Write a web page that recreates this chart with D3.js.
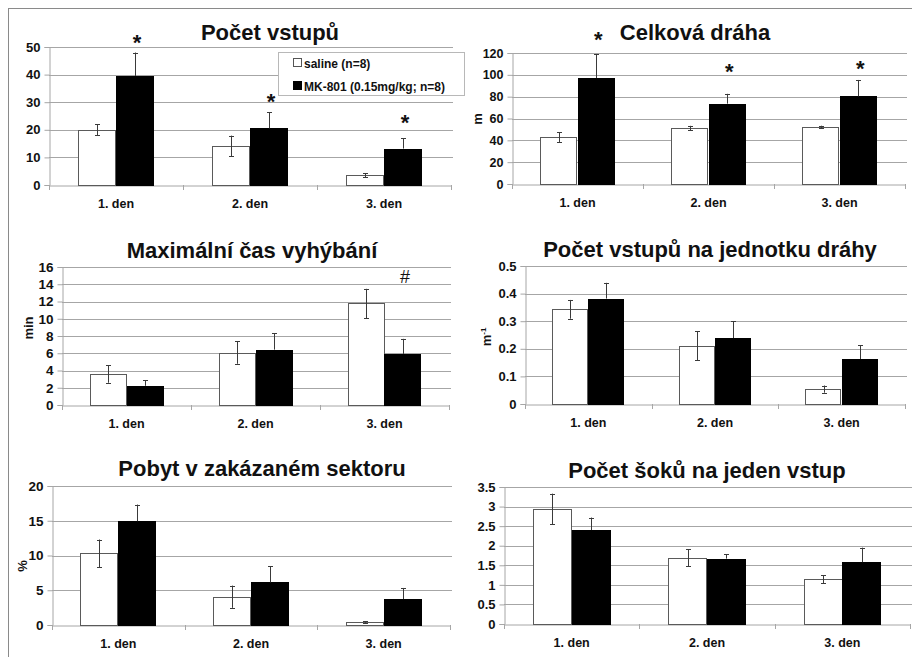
<!DOCTYPE html>
<html><head><meta charset="utf-8">
<script src="https://cdn.jsdelivr.net/npm/d3@7/dist/d3.min.js"></script>
<style>
html,body{margin:0;padding:0;background:#fff;}
svg{display:block;font-family:"Liberation Sans",Arial,sans-serif;}
</style></head>
<body>
<svg id="chart" width="912" height="657"></svg>
<script>
// ---------- data ----------
const categories = ["1. den", "2. den", "3. den"];
const seriesNames = ["saline (n=8)", "MK-801 (0.15mg/kg; n=8)"];

const titles = ["Počet vstupů", "Celková dráha", "Maximální čas vyhýbání",
                "Počet vstupů na jednotku dráhy", "Pobyt v zakázaném sektoru", "Počet šoků na jeden vstup"];
const yLabels = ["", "m", "min", "m", "%", ""];
const yLabelSup = ["", "", "", "-1", "", ""];

const yMax = [50, 120, 16, 0.5, 20, 3.5];
const yStep = [10, 20, 2, 0.1, 5, 0.5];

// panel 1: Počet vstupů
const entriesSaline = [20, 14.2, 3.5];
const entriesSalineErr = [2, 3.7, 0.7];
const entriesMK = [39.5, 20.5, 13.2];
const entriesMKErr = [8.5, 5.8, 3.7];
// panel 2: Celková dráha
const pathSaline = [43, 51.3, 52.2];
const pathSalineErr = [4.5, 2, 1.2];
const pathMK = [97.1, 73.6, 80.3];
const pathMKErr = [22, 9, 15];
// panel 3: Maximální čas vyhýbání
const avoidSaline = [3.58, 6.08, 11.77];
const avoidSalineErr = [1, 1.3, 1.7];
const avoidMK = [2.23, 6.42, 5.92];
const avoidMKErr = [0.65, 1.9, 1.75];
// panel 4: Počet vstupů na jednotku dráhy
const perPathSaline = [0.343, 0.211, 0.054];
const perPathSalineErr = [0.034, 0.052, 0.013];
const perPathMK = [0.382, 0.239, 0.163];
const perPathMKErr = [0.057, 0.06, 0.05];
// panel 5: Pobyt v zakázaném sektoru
const timeSaline = [10.3, 4.07, 0.43];
const timeSalineErr = [2, 1.6, 0.12];
const timeMK = [14.93, 6.12, 3.73];
const timeMKErr = [2.4, 2.3, 1.6];
// panel 6: Počet šoků na jeden vstup
const shockSaline = [2.94, 1.69, 1.14];
const shockSalineErr = [0.39, 0.22, 0.1];
const shockMK = [2.40, 1.67, 1.58];
const shockMKErr = [0.32, 0.11, 0.37];

// significance marks: [panel, category index, series index, symbol, level in data units]
const marks = [
  [0, 0, 1, "*", 53.3], [0, 1, 1, "*", 31.9], [0, 2, 1, "*", 24.3],
  [1, 0, 1, "*", 136.8], [1, 1, 1, "*", 107.7], [1, 2, 1, "*", 110.2],
  [2, 2, 1, "#", 14.8]
];

// ---------- layout ----------
const boxes = [
  {l: 49, r: 451, t: 47, b: 185, tx: 270, ty: 40, lx: 0, ly: 0, fs: 13},
  {l: 512, r: 905, t: 53, b: 184, tx: 695, ty: 40, lx: 478, ly: 119, fs: 12.5},
  {l: 62, r: 449, t: 267, b: 405, tx: 252, ty: 258, lx: 29, ly: 328, fs: 13.5},
  {l: 525, r: 905, t: 266, b: 404, tx: 710, ty: 257, lx: 487, ly: 337, fs: 13},
  {l: 52, r: 450, t: 486, b: 625, tx: 262, ty: 476, lx: 23, ly: 566, fs: 13.5},
  {l: 504, r: 910, t: 487, b: 624, tx: 707, ty: 478, lx: 0, ly: 0, fs: 13}
];

const panelData = [
  [entriesSaline, entriesSalineErr, entriesMK, entriesMKErr],
  [pathSaline, pathSalineErr, pathMK, pathMKErr],
  [avoidSaline, avoidSalineErr, avoidMK, avoidMKErr],
  [perPathSaline, perPathSalineErr, perPathMK, perPathMKErr],
  [timeSaline, timeSalineErr, timeMK, timeMKErr],
  [shockSaline, shockSalineErr, shockMK, shockMKErr]
];

const gridColor = "#a6a6a6";
const svg = d3.select("#chart");

// outer frame (top and left lines)
svg.append("line").attr("x1", 8).attr("x2", 912).attr("y1", 8.5).attr("y2", 8.5)
  .attr("stroke", "#8a8a8a").attr("stroke-width", 1);
svg.append("line").attr("x1", 8.5).attr("x2", 8.5).attr("y1", 8).attr("y2", 657)
  .attr("stroke", "#8a8a8a").attr("stroke-width", 1);

function drawPanel(i) {
  const bx = boxes[i];
  const [sv, se, mv, me] = panelData[i];
  const g = svg.append("g");

  const x = d3.scaleBand().domain(categories).range([bx.l, bx.r]).paddingInner(0).paddingOuter(0);
  const y = d3.scaleLinear().domain([0, yMax[i]]).range([bx.b, bx.t]);
  const ticks = d3.range(0, yMax[i] + yStep[i] / 2, yStep[i]).map(v => +v.toFixed(4));
  const barW = x.bandwidth() / 3.5;

  // gridlines
  g.selectAll(".grid").data(ticks.filter(t => t > 0)).join("line")
    .attr("x1", bx.l).attr("x2", bx.r + 2)
    .attr("y1", d => Math.round(y(d)) + 0.5).attr("y2", d => Math.round(y(d)) + 0.5)
    .attr("stroke", gridColor).attr("stroke-width", 1);

  // y axis
  const yAxis = d3.axisLeft(y).tickValues(ticks).tickSize(5).tickPadding(4)
    .tickFormat(d => String(+d.toFixed(4)));
  const ya = g.append("g").attr("transform", `translate(${Math.round(bx.l) + 0.5},0)`).call(yAxis);
  ya.select(".domain").attr("stroke", gridColor);
  ya.selectAll(".tick line").attr("stroke", gridColor);
  ya.selectAll(".tick text").attr("font-size", bx.fs).attr("font-weight", "bold")
    .attr("fill", "#111").attr("font-family", "Liberation Sans, Arial, sans-serif");

  // x axis
  const xAxis = d3.axisBottom(x).tickSize(0).tickPadding(14);
  const xa = g.append("g").attr("transform", `translate(0,${Math.round(bx.b) + 0.5})`).call(xAxis);
  xa.select(".domain").attr("stroke", gridColor);
  xa.selectAll(".tick text").attr("font-size", 12.5).attr("font-weight", "bold")
    .attr("fill", "#111").attr("font-family", "Liberation Sans, Arial, sans-serif");
  // boundary ticks
  const bounds = categories.map(c => x(c)).concat([x(categories[2]) + x.bandwidth()]);
  g.selectAll(".btick").data(bounds).join("line")
    .attr("x1", d => Math.round(d) + 0.5).attr("x2", d => Math.round(d) + 0.5)
    .attr("y1", y(0)).attr("y2", y(0) + 5)
    .attr("stroke", gridColor);

  // bars
  const series = [
    {vals: sv, errs: se, fill: "#ffffff", stroke: "#5a5a5a", off: 0, both: true},
    {vals: mv, errs: me, fill: "#000000", stroke: "#000000", off: 1, both: false}
  ];
  series.forEach(s => {
    const bx0 = c => x(c) + barW * 0.75 + s.off * barW;
    g.selectAll(null).data(categories).join("rect")
      .attr("x", c => Math.round(bx0(c)) + 0.5)
      .attr("width", Math.round(barW) - 1)
      .attr("y", (c, k) => Math.round(y(s.vals[k])) + 0.5)
      .attr("height", (c, k) => Math.round(y(0)) - Math.round(y(s.vals[k])))
      .attr("fill", s.fill).attr("stroke", s.stroke).attr("stroke-width", 1);
    // error bars
    const cx = c => Math.round(bx0(c) + barW / 2) + 0.5;
    g.selectAll(null).data(categories).join("line")
      .attr("x1", cx).attr("x2", cx)
      .attr("y1", (c, k) => y(s.vals[k] + s.errs[k]))
      .attr("y2", (c, k) => s.both ? y(s.vals[k] - s.errs[k]) : y(s.vals[k]))
      .attr("stroke", "#3a3a3a").attr("stroke-width", 1);
    (s.both ? [1, -1] : [1]).forEach(sign => {
      g.selectAll(null).data(categories).join("line")
        .attr("x1", c => cx(c) - 2.5).attr("x2", c => cx(c) + 2.5)
        .attr("y1", (c, k) => Math.round(y(s.vals[k] + sign * s.errs[k])) + 0.5)
        .attr("y2", (c, k) => Math.round(y(s.vals[k] + sign * s.errs[k])) + 0.5)
        .attr("stroke", "#3a3a3a").attr("stroke-width", 1);
    });
  });

  // significance marks
  marks.filter(m => m[0] === i).forEach(m => {
    const cx = x(categories[m[1]]) + barW * 0.75 + m[2] * barW + barW / 2;
    const isStar = m[3] === "*";
    g.append("text").attr("x", cx + 2).attr("y", y(m[4]) + (isStar ? 12.5 : 6))
      .attr("text-anchor", "middle")
      .attr("font-size", isStar ? 22 : 18).attr("font-weight", isStar ? "bold" : "normal")
      .attr("fill", "#111").text(m[3]);
  });

  // title
  g.append("text").attr("x", bx.tx).attr("y", bx.ty).attr("text-anchor", "middle")
    .attr("font-size", 22).attr("font-weight", "bold").attr("fill", "#111").text(titles[i]);

  // y label
  if (yLabels[i]) {
    const t = g.append("text").attr("transform", `translate(${bx.lx + 4},${bx.ly}) rotate(-90)`)
      .attr("text-anchor", "middle").attr("font-size", 13).attr("font-weight", "bold").attr("fill", "#111");
    t.append("tspan").text(yLabels[i]);
    if (yLabelSup[i]) t.append("tspan").attr("dy", -5).attr("font-size", 8).text(yLabelSup[i]);
  }
}

for (let i = 0; i < 6; i++) drawPanel(i);

// legend
const lg = svg.append("g");
lg.append("rect").attr("x", 278.5).attr("y", 52.5).attr("width", 186).attr("height", 43)
  .attr("fill", "#fff").attr("stroke", "#b8b8b8");
seriesNames.forEach((name, k) => {
  const yy = 63 + k * 23;
  lg.append("rect").attr("x", 293.5).attr("y", yy - 4.5).attr("width", 8).attr("height", 8)
    .attr("fill", k === 0 ? "#fff" : "#000").attr("stroke", k === 0 ? "#555" : "#000");
  lg.append("text").attr("x", 304).attr("y", yy + 4.5).attr("font-size", 12).attr("font-weight", "bold")
    .attr("fill", "#111").text(name);
});
</script>
</body></html>
